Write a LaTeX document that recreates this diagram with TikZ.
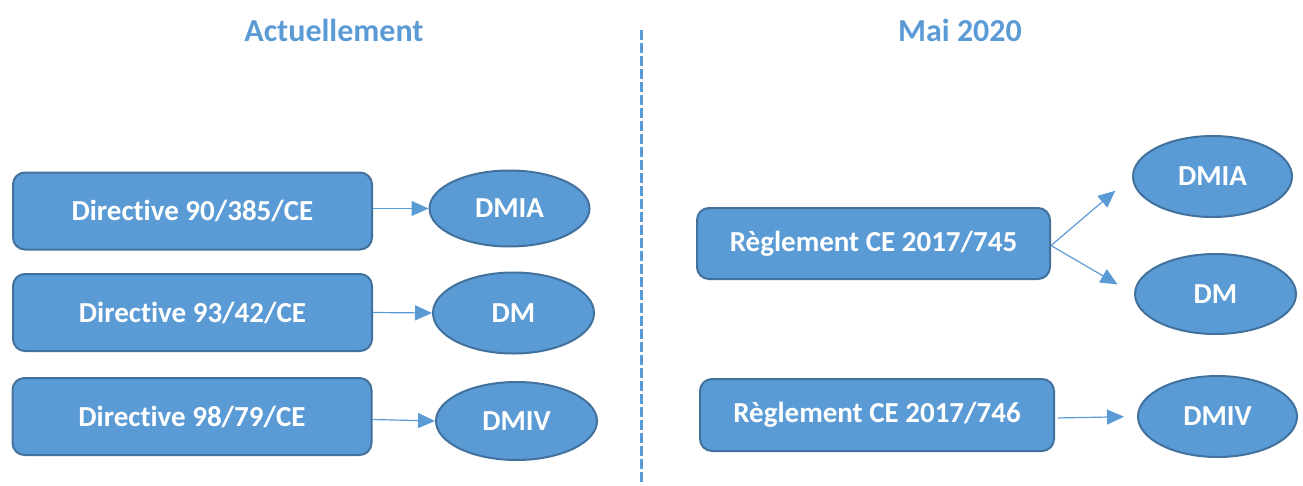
\documentclass[tikz,border=0pt]{standalone}
\usepackage{fontspec}
\setmainfont[Ligatures=NoCommon]{Carlito}
\usepackage{tikz}
\usetikzlibrary{arrows.meta,positioning,shapes.geometric}

\definecolor{boxblue}{HTML}{5B9BD5}
\definecolor{edgeblue}{HTML}{41719C}

\begin{document}
\begin{tikzpicture}[x=1pt,y=-1pt,
	block/.style={rectangle,rounded corners=12pt,draw=edgeblue,fill=boxblue,line width=2pt,text=white,font=\fontsize{29}{33}\bfseries\selectfont},
	oval/.style={ellipse,draw=edgeblue,fill=boxblue,line width=2pt,text=white,inner sep=0pt,font=\fontsize{29}{33}\bfseries\selectfont},
	link/.style={draw=boxblue,line width=1.2pt,-{Triangle[length=17pt,width=15pt]}},
	heading/.style={text=boxblue,font=\fontsize{32}{36}\bfseries\selectfont}]
	
	\useasboundingbox (0,0) rectangle (1303,485);
	
	% titres
	\node[heading] (now) at (334,30) {Actuellement};
	\node[heading] (later) at (960,30) {Mai 2020};
	\draw[boxblue,line width=3pt,dash pattern=on 10pt off 3pt] (641,30) -- (641,485);
	
	% actuellement
	\node[block,minimum width=359pt,minimum height=77pt] (dir1) at (192.5,211) {Directive 90/385/CE};
	\node[block,minimum width=359pt,minimum height=77pt] (dir2) at (192.5,312.5) {Directive 93/42/CE};
	\node[block,minimum width=359pt,minimum height=77pt] (dir3) at (192,416.5) {Directive 98/79/CE};
	
	\node[oval,minimum width=160pt,minimum height=76pt] (dmia1) at (509.5,208.5) {DMIA};
	\node[oval,minimum width=161pt,minimum height=81pt] (dm1) at (513.5,313) {DM};
	\node[oval,minimum width=161pt,minimum height=78pt] (dmiv1) at (516.5,421) {DMIV};
	
	\draw[link] ([yshift=2.5pt]dir1.east) -- (dmia1.west);
	\draw[link] (dir2.east) -- (dm1.west);
	\draw[link] ([yshift=-3pt]dir3.east) -- (dmiv1.west);
	
	% mai 2020
	\node[block,minimum width=353pt,minimum height=71pt] (reg1) at (873.5,243.5) {Règlement CE 2017/745};
	\node[block,minimum width=354pt,minimum height=72pt] (reg2) at (877,415) {Règlement CE 2017/746};
	
	\node[oval,minimum width=159pt,minimum height=81pt] (dmia2) at (1212.5,176.5) {DMIA};
	\node[oval,minimum width=161pt,minimum height=80pt] (dm2) at (1215.5,294) {DM};
	\node[oval,minimum width=159pt,minimum height=81pt] (dmiv2) at (1217.5,416.5) {DMIV};
	
	\draw[link,shorten >=22pt] ([yshift=-2pt]reg1.east) -- (dmia2.west);
	\draw[link,shorten >=19pt] ([yshift=-2pt]reg1.east) -- (dm2.west);
	\draw[link,shorten >=13pt,shorten <=3pt] ([yshift=-3pt]reg2.east) -- (dmiv2.west);
	
\end{tikzpicture}
\end{document}
